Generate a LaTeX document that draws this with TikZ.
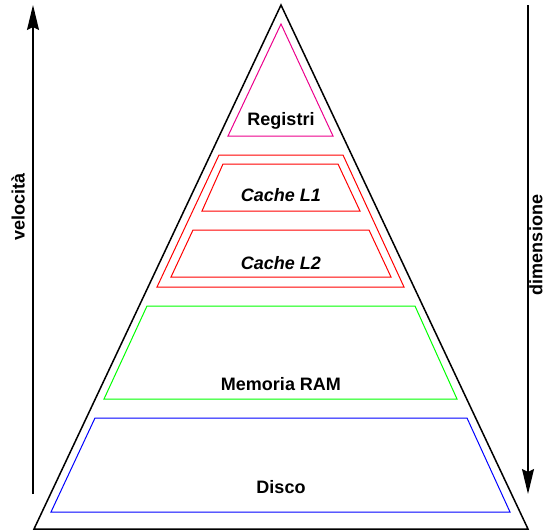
\documentclass[tikz,border=0pt]{standalone}
\usepackage{fontspec}
\setmainfont{Liberation Sans}
\usetikzlibrary{arrows.meta}
\begin{document}
\begin{tikzpicture}[x=1pt,y=-1pt,
  lbl/.style={font=\fontsize{18}{20}\selectfont\bfseries, inner sep=0pt},
  ilbl/.style={font=\fontsize{18}{20}\selectfont\bfseries\itshape, inner sep=0pt},
  outline/.style={draw=black, line width=1.5pt, line join=miter},
  level/.style={line width=1pt},
  axis/.style={draw=black, line width=1.5pt, -{Stealth[length=25pt,width=12pt,inset=3pt]}}]
\useasboundingbox (0,0) rectangle (547,531);
% big pyramid
\draw[outline] (281,5) -- (528,529) -- (34,529) -- cycle;
% registers
\draw[level, draw=magenta] (281,24) -- (333,136) -- (228,136) -- cycle;
% cache outer
\draw[level, draw=red] (219,155) -- (343,155) -- (404,287) -- (157,287) -- cycle;
\draw[level, draw=red] (223,164) -- (338,164) -- (360,211) -- (202,211) -- cycle;
\draw[level, draw=red] (193,230) -- (369,230) -- (391,277) -- (171,277) -- cycle;
% RAM
\draw[level, draw=green] (147,306) -- (415,306) -- (457,399) -- (104,399) -- cycle;
% disk
\draw[level, draw=blue] (95,418) -- (467,418) -- (510,512) -- (51,512) -- cycle;
% labels
\node[lbl] (reg) at (281,121) {Registri};
\node[ilbl] (l1) at (281,195) {Cache L1};
\node[ilbl] (l2) at (281,263) {Cache L2};
\node[lbl] (ram) at (281,384) {Memoria RAM};
\node[lbl] (disk) at (281,487) {Disco};
% axes
\coordinate (va) at (33,494);
\coordinate (vb) at (33,5);
\coordinate (da) at (528,5);
\coordinate (db) at (528,494);
\draw[axis] (va) -- (vb);
\draw[axis] (da) -- (db);
\node[lbl, rotate=90] (vel) at (18,207) {velocità};
\node[lbl, rotate=90] (dim) at (536,245) {dimensione};
\end{tikzpicture}
\end{document}
